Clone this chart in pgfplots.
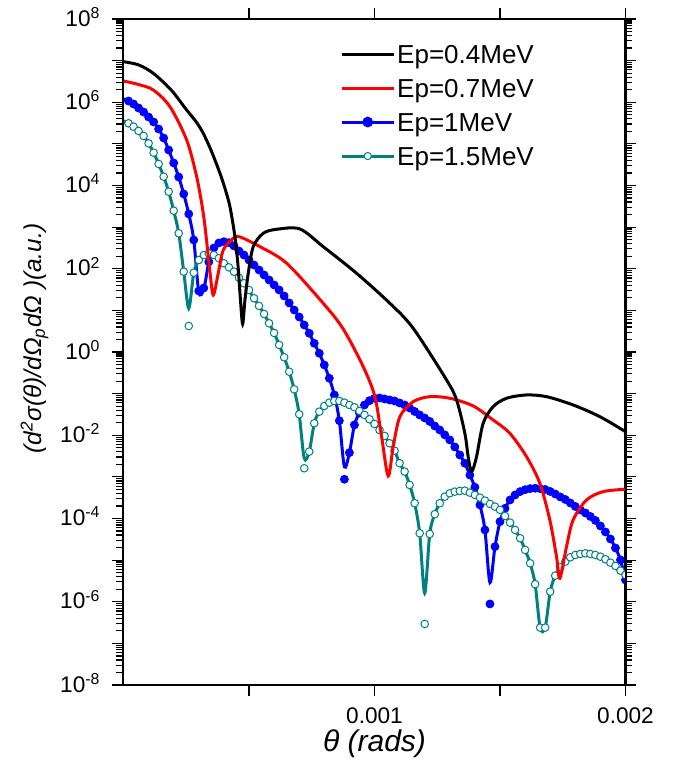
\documentclass[border=0pt]{standalone}
\usepackage{fontspec}
\setmainfont{Liberation Sans}
\usepackage{pgfplots}
\pgfplotsset{compat=1.18}
\usepackage{pgfplotstable}

\definecolor{tealc}{RGB}{0,128,128}
\definecolor{redc}{RGB}{255,0,0}
\definecolor{bluec}{RGB}{0,0,255}
\newcommand\lst{\rule[-3.5pt]{0pt}{14pt}}

\pgfplotstableread{
x y
0 9.42e6
0.00006 7.9e6
0.0001187 4.97e6
0.00019 1.97e6
0.0002517 6.52e5
0.00029 3.36e5
0.0003178 1.79e5
0.00035 6.75e4
0.0003843 1.97e4
0.000405 8.24e3
0.0004241 3.10e3
0.0004440 590
0.0004560 123
0.0004660 17.8
0.0004747 4.72
0.0004839 17.8
0.0004970 77.8
0.0005169 339
0.0005567 711
0.0006101 887
0.0007029 904
0.0007957 339
0.0009287 77.8
0.0010613 14.8
0.0011541 3.72
0.0012871 0.213
0.0013270 0.0705
0.0013600 0.01117
0.0013732 0.00306
0.0013867 0.001337
0.0014066 0.00306
0.0014329 0.0194
0.0014727 0.0486
0.0015261 0.0774
0.0016057 0.0929
0.0016854 0.0845
0.0017913 0.0535
0.0018977 0.0280
0.002 0.0122
}\blackdata

\pgfplotstableread{
x y
0 3.24e6
0.00006 2.67e6
0.0001187 1.97e6
0.0001852 7.82e5
0.0002517 1.24e5
0.0002915 1.63e4
0.0003178 2.15e3
0.0003337 339
0.0003445 83.7
0.0003576 23.4
0.0003775 77.8
0.0003975 282
0.0004373 540
0.0004640 580
0.0005436 339
0.0006499 136
0.0007957 14.8
0.0008754 3.57
0.0009550 0.445
0.0010016 0.0845
0.0010283 0.00925
0.0010546 0.00105
0.0010745 0.00532
0.0011012 0.0280
0.0011541 0.0641
0.0012206 0.0845
0.0013003 0.0774
0.0013931 0.0506
0.0014727 0.0233
0.0015392 0.01117
0.0016057 0.00306
0.0016587 7.03e-4
0.0016985 9.23e-5
0.0017252 1.21e-5
0.0017384 3.67e-6
0.0017650 2.11e-5
0.0017913 9.23e-5
0.0018447 2.79e-4
0.0019108 4.42e-4
0.002 5.05e-4
}\reddata

% m = symbols, l = line
\pgfplotstableread{
x m l
0 nan 1.20e6
0.00002 1.07e6 1.07e6
0.00004 9.08e5 9.08e5
0.00006 7.28e5 7.28e5
0.00008 5.83e5 5.83e5
0.00010 4.42e5 4.42e5
0.00012 3.36e5 3.36e5
0.00014 2.28e5 2.28e5
0.00016 1.385e5 1.385e5
0.00018 7.13e4 7.13e4
0.00020 3.48e4 3.48e4
0.00022 1.60e4 1.60e4
0.00024 6.26e3 6.26e3
0.00026 2.07e3 2.07e3
0.00028 491 491
0.00030 29.3 27.7
0.00032 34.5 32.7
0.00034 146 146
0.00036 316 316
0.00038 416 416
0.00040 447 447
0.00042 423 423
0.00044 353 353
0.00046 267 267
0.00048 214 214
0.00050 162 162
0.00052 123 123
0.00054 93.5 93.5
0.00056 70.9 70.9
0.00058 53.8 53.8
0.00060 40.8 40.8
0.00062 30.9 30.9
0.00064 22.2 22.2
0.00066 15.1 15.1
0.00068 10.2 10.2
0.00070 6.94 6.94
0.00072 4.46 4.46
0.00074 2.82 2.82
0.00076 1.62 1.62
0.00078 0.933 0.933
0.00080 0.488 0.488
0.00082 0.234 0.234
0.00084 0.0929 0.0929
0.00086 0.0224 0.0224
0.00088 8.77e-4 1.76e-3
0.00090 3.82e-3 3.82e-3
0.00092 0.0177 0.0177
0.00094 0.0343 0.0343
0.00096 0.0534 0.0534
0.00098 0.0678 0.0678
0.00100 0.0774 0.0774
0.00102 0.0787 0.0787
0.00104 0.0745 0.0745
0.00106 0.0705 0.0705
0.00108 0.0667 0.0667
0.00110 0.0597 0.0597
0.00112 0.0534 0.0534
0.00114 0.0453 0.0453
0.00116 0.0373 0.0373
0.00118 0.0307 0.0307
0.00120 0.0260 0.0260
0.00122 0.0215 0.0215
0.00124 0.0167 0.0167
0.00126 0.0134 0.0134
0.00128 0.0102 0.0102
0.00130 7.71e-3 7.71e-3
0.00132 5.24e-3 5.24e-3
0.00134 3.36e-3 3.36e-3
0.00136 2.13e-3 2.13e-3
0.00138 1.11e-3 1.11e-3
0.00140 5.64e-4 5.64e-4
0.00142 2.12e-4 2.12e-4
0.00144 5.31e-5 5.31e-5
0.00146 8.86e-7 2.88e-6
0.00148 2.11e-5 2.11e-5
0.00150 8.41e-5 8.41e-5
0.00152 1.76e-4 1.76e-4
0.00154 2.79e-4 2.79e-4
0.00156 3.68e-4 3.68e-4
0.00158 4.42e-4 4.42e-4
0.00160 4.93e-4 4.93e-4
0.00162 5.22e-4 5.22e-4
0.00164 5.33e-4 5.33e-4
0.00166 5.22e-4 5.22e-4
0.00168 4.99e-4 4.99e-4
0.00170 4.47e-4 4.47e-4
0.00172 3.89e-4 3.89e-4
0.00174 3.30e-4 3.30e-4
0.00176 2.87e-4 2.87e-4
0.00178 2.36e-4 2.36e-4
0.00180 1.95e-4 1.95e-4
0.00182 1.61e-4 1.61e-4
0.00184 1.36e-4 1.36e-4
0.00186 1.12e-4 1.12e-4
0.00188 8.98e-5 8.98e-5
0.00190 6.63e-5 6.63e-5
0.00192 4.76e-5 4.76e-5
0.00194 3.23e-5 3.23e-5
0.00196 1.96e-5 1.96e-5
0.00198 1.01e-5 1.01e-5
0.00200 3.34e-6 3.34e-6
}\bluedata

\pgfplotstableread{
x m l
0 nan 3.55e5
0.00002 3.12e5 3.12e5
0.00004 2.59e5 2.59e5
0.00006 2.04e5 2.04e5
0.00008 1.55e5 1.55e5
0.00010 1.03e5 1.03e5
0.00012 6.14e4 6.14e4
0.00014 3.29e4 3.29e4
0.00016 1.63e4 1.63e4
0.00018 7.10e3 7.10e3
0.00020 2.48e3 2.48e3
0.00022 712 712
0.00024 85.1 85.1
0.00026 4.22 11.2
0.00028 80.5 80.5
0.00030 162 162
0.00032 214 214
0.00034 235 235
0.00036 214 214
0.00038 179 179
0.00040 135 135
0.00042 108 108
0.00044 85.1 85.1
0.00046 61.1 61.1
0.00048 44.8 44.8
0.00050 30.9 30.9
0.00052 19.5 19.5
0.00054 12.8 12.8
0.00056 8.20 8.20
0.00058 4.90 4.90
0.00060 2.87 2.87
0.00062 1.48 1.48
0.00064 0.748 0.748
0.00066 0.337 0.337
0.00068 0.127 0.127
0.00070 0.0320 0.0320
0.00072 1.61e-3 2.80e-3
0.00074 4.04e-3 4.04e-3
0.00076 0.0194 0.0194
0.00078 0.0369 0.0369
0.00080 0.0506 0.0506
0.00082 0.0607 0.0607
0.00084 0.0667 0.0667
0.00086 0.0667 0.0667
0.00088 0.0607 0.0607
0.00090 0.0534 0.0534
0.00092 0.0471 0.0471
0.00094 0.0384 0.0384
0.00096 0.0307 0.0307
0.00098 0.0242 0.0242
0.00100 0.0187 0.0187
0.00102 0.0134 0.0134
0.00104 9.62e-3 9.62e-3
0.00106 6.42e-3 6.42e-3
0.00108 4.27e-3 4.27e-3
0.00110 2.13e-3 2.13e-3
0.00112 1.34e-3 1.34e-3
0.00114 6.40e-4 6.40e-4
0.00116 2.33e-4 2.33e-4
0.00118 4.42e-5 4.42e-5
0.00120 2.93e-7 1.60e-6
0.00122 4.26e-5 4.26e-5
0.00124 1.27e-4 1.27e-4
0.00126 2.33e-4 2.33e-4
0.00128 3.35e-4 3.35e-4
0.00130 4.04e-4 4.04e-4
0.00132 4.42e-4 4.42e-4
0.00134 4.59e-4 4.59e-4
0.00136 4.67e-4 4.67e-4
0.00138 4.18e-4 4.18e-4
0.00140 3.68e-4 3.68e-4
0.00142 3.17e-4 3.17e-4
0.00144 2.69e-4 2.69e-4
0.00146 2.24e-4 2.24e-4
0.00148 1.93e-4 1.93e-4
0.00150 1.61e-4 1.61e-4
0.00152 1.15e-4 1.15e-4
0.00154 7.96e-5 7.96e-5
0.00156 5.31e-5 5.31e-5
0.00158 3.36e-5 3.36e-5
0.00160 1.76e-5 1.76e-5
0.00162 8.42e-6 8.42e-6
0.00164 2.64e-6 2.64e-6
0.00166 2.39e-7 2.39e-7
0.00168 2.39e-7 2.39e-7
0.00170 1.75e-6 1.75e-6
0.00172 4.24e-6 4.24e-6
0.00174 6.75e-6 6.75e-6
0.00176 9.20e-6 9.20e-6
0.00178 1.17e-5 1.17e-5
0.00180 1.33e-5 1.33e-5
0.00182 1.41e-5 1.41e-5
0.00184 1.46e-5 1.46e-5
0.00186 1.41e-5 1.41e-5
0.00188 1.33e-5 1.33e-5
0.00190 1.21e-5 1.21e-5
0.00192 1.05e-5 1.05e-5
0.00194 8.70e-6 8.70e-6
0.00196 7.25e-6 7.25e-6
0.00198 5.59e-6 5.59e-6
0.00200 4.41e-6 4.41e-6
}\tealdata

\begin{document}
\begin{tikzpicture}

\begin{semilogyaxis}[
  at={(0,0)}, anchor=south west,
  scale only axis, width=251pt, height=333pt,
  xmin=0, xmax=0.002, ymin=1e-8, ymax=1e8,
  scaled x ticks=false,
  xtick={0.0005,0.001,0.0015,0.002},
  ytick={1e-8,1e-7,1e-6,1e-5,1e-4,1e-3,1e-2,1e-1,1,1e1,1e2,1e3,1e4,1e5,1e6,1e7,1e8},
  minor ytick={2e-8,3e-8,4e-8,5e-8,6e-8,7e-8,8e-8,9e-8,
    2e-7,3e-7,4e-7,5e-7,6e-7,7e-7,8e-7,9e-7,
    2e-6,3e-6,4e-6,5e-6,6e-6,7e-6,8e-6,9e-6,
    2e-5,3e-5,4e-5,5e-5,6e-5,7e-5,8e-5,9e-5,
    2e-4,3e-4,4e-4,5e-4,6e-4,7e-4,8e-4,9e-4,
    2e-3,3e-3,4e-3,5e-3,6e-3,7e-3,8e-3,9e-3,
    2e-2,3e-2,4e-2,5e-2,6e-2,7e-2,8e-2,9e-2,
    2e-1,3e-1,4e-1,5e-1,6e-1,7e-1,8e-1,9e-1,
    2,3,4,5,6,7,8,9,
    2e1,3e1,4e1,5e1,6e1,7e1,8e1,9e1,
    2e2,3e2,4e2,5e2,6e2,7e2,8e2,9e2,
    2e3,3e3,4e3,5e3,6e3,7e3,8e3,9e3,
    2e4,3e4,4e4,5e4,6e4,7e4,8e4,9e4,
    2e5,3e5,4e5,5e5,6e5,7e5,8e5,9e5,
    2e6,3e6,4e6,5e6,6e6,7e6,8e6,9e6,
    2e7,3e7,4e7,5e7,6e7,7e7,8e7,9e7},
  major tick length=5.5pt, minor tick length=3.5pt,
  tick align=outside,
  tick style={line width=0.6pt, black},
  axis line style={line width=1pt},
  xticklabels={,0.001,,0.002},
  yticklabels={10\textsuperscript{-8},,10\textsuperscript{-6},,10\textsuperscript{-4},,10\textsuperscript{-2},,10\textsuperscript{0},,10\textsuperscript{2},,10\textsuperscript{4},,10\textsuperscript{6},,10\textsuperscript{8}},
  ticklabel style={font=\fontsize{11.3}{13}\selectfont},
  yticklabel style={anchor=base east, yshift=-3.6pt, xshift=-2.5pt},
  xticklabel style={yshift=-2.5pt},
  xlabel={\textit{θ (rads)}},
  ylabel={\textit{(d\textsuperscript{2}σ(θ)/dΩ\textsubscript{p}dΩ )(a.u.)}},
  xlabel style={font=\fontsize{15}{17}\selectfont, at={(axis description cs:0.5,0)}, anchor=base, yshift=-33pt},
  ylabel style={font=\fontsize{12.2}{14}\selectfont, at={(axis description cs:-0.177,0.52)}, anchor=center},
  clip marker paths=true,
  unbounded coords=discard,
  legend style={at={(0.419,0.975)}, anchor=north west, draw=none, fill=none,
    font=\fontsize{13}{14}\selectfont, row sep=3pt, nodes={inner sep=1pt}},
  legend cell align=left,
  legend image code/.code={\draw[mark repeat=2,mark phase=2,#1] plot coordinates {(0pt,0pt) (13pt,0pt) (26pt,0pt)};},
]
\addplot[bluec, line width=1.5pt, smooth, forget plot] table[x=x, y=l] {\bluedata};
\addplot[bluec, only marks, mark=*, mark size=2pt, forget plot] table[x=x, y=m] {\bluedata};
\addplot[tealc, line width=1.5pt, smooth, forget plot] table[x=x, y=l] {\tealdata};
\addplot[tealc, only marks, mark=*, mark size=1.9pt, mark options={fill=white, line width=0.5pt}, forget plot] table[x=x, y=m] {\tealdata};
\addplot[redc, line width=1.5pt, smooth, forget plot] table[x=x, y=y] {\reddata};
\addplot[black, line width=1.5pt, smooth, forget plot] table[x=x, y=y] {\blackdata};

\addlegendimage{black, line width=1.5pt}
\addlegendimage{redc, line width=1.5pt}
\addlegendimage{bluec, line width=1.5pt, mark=*, mark size=1.9pt}
\addlegendimage{tealc, line width=1.5pt, mark=*, mark size=1.8pt, mark options={fill=white, line width=0.5pt}}
\legend{\lst Ep=0.4MeV, \lst Ep=0.7MeV, \lst Ep=1MeV, \lst Ep=1.5MeV}
\end{semilogyaxis}

% frame drawn once more around the axis box
\draw[line width=1pt] (0,0) rectangle (251pt,333pt);

\path (-61.75pt,-41pt) rectangle (274.75pt,342.5pt);
\end{tikzpicture}
\end{document}
